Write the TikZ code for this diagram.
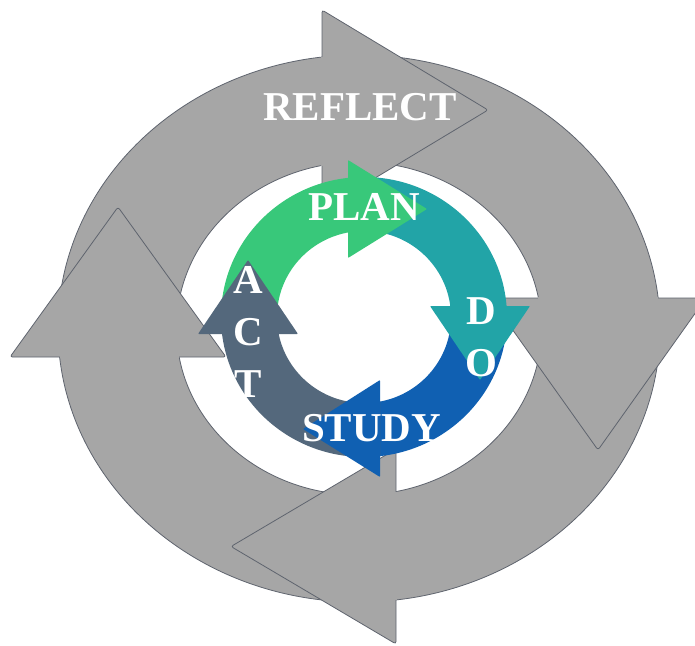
\documentclass[tikz,border=0pt]{standalone}
\usepackage{fontspec}
\setmainfont{Liberation Serif}
\definecolor{ringgray}{RGB}{166,166,166}
\definecolor{ringline}{RGB}{95,100,110}
\definecolor{plangreen}{RGB}{56,200,122}
\definecolor{doteal}{RGB}{34,164,167}
\definecolor{studyblue}{RGB}{16,96,178}
\definecolor{actslate}{RGB}{84,104,124}
% inner PDSA band (outer and inner rim)
\newcommand\pdsaband{(364,317) ellipse [x radius=143, y radius=140]
                     (364,317) ellipse [x radius=87, y radius=86]}
\tikzset{
  outerring/.style={fill=ringgray, draw=ringline, line width=0.8pt, even odd rule},
  grayhead/.style={fill=ringgray, draw=ringline, line width=0.8pt,
                   rounded corners=2.5pt, line join=round},
  seam/.style={draw=ringgray, line width=1.6pt},
  colhead/.style={rounded corners=0.8pt},
  word/.style={text=white, font=\fontsize{41}{41}\selectfont\bfseries,
               inner sep=0pt, anchor=base},
}
\begin{document}
\begin{tikzpicture}[x=1pt, y=-1pt]
\useasboundingbox (0,0) rectangle (695,645);
\fill[white] (0,0) rectangle (695,645);

% ---- REFLECT cycle: grey ring ----
\path[outerring] (359,328.5) ellipse [x radius=301, y radius=273.5]
                 (359,328.5) ellipse [x radius=182.5, y radius=166.5];

% grey arrowheads (back edge hidden where it joins its own arc)
\path[grayhead] (322,10) -- (488,110) -- (322,210) -- cycle;
\draw[seam] (322,57.1) -- (322,165.5);
\path[grayhead] (490,298) -- (706,298) -- (598,450) -- cycle;
\draw[seam] (538.4,298) -- (658.1,298);
\path[grayhead] (396,644) -- (396,449) -- (231,546.5) -- cycle;
\draw[seam] (396,491.5) -- (396,599.9);
\path[grayhead] (226,357) -- (10,357) -- (118,207) -- cycle;
\draw[seam] (59.6,357) -- (179.2,357);

% ---- PDSA cycle: coloured band, one quarter per step ----
\begin{scope}
  \clip (0,0) rectangle (348,334);
  \fill[plangreen, even odd rule] \pdsaband;
\end{scope}
\begin{scope}
  \clip (348,0) rectangle (695,306);
  \fill[doteal, even odd rule] \pdsaband;
\end{scope}
\begin{scope}
  \clip (380,306) rectangle (695,645);
  \fill[studyblue, even odd rule] \pdsaband;
\end{scope}
\begin{scope}
  \clip (0,334) rectangle (380,645);
  \fill[actslate, even odd rule] \pdsaband;
\end{scope}

% coloured arrowheads
\fill[plangreen, colhead] (348,160) -- (427,209) -- (348,258) -- cycle;
\fill[doteal, colhead] (430,306) -- (530,306) -- (480,380) -- cycle;
\fill[studyblue, colhead] (380,380) -- (303,429) -- (380,477) -- cycle;
\fill[actslate, colhead] (198,334) -- (298,334) -- (248,260) -- cycle;

% ---- labels ----
\node[word] (reflect) at (360,120) {REFLECT};
\node[word] (plan) at (364,220) {PLAN};
\node[word] (d) at (481,324) {D};
\node[word] (o) at (481,376) {O};
\node[word] (study) at (371.5,441) {STUDY};
\node[word] (a) at (248,293) {A};
\node[word] (c) at (248,345) {C};
\node[word] (t) at (248,397) {T};
\end{tikzpicture}
\end{document}
